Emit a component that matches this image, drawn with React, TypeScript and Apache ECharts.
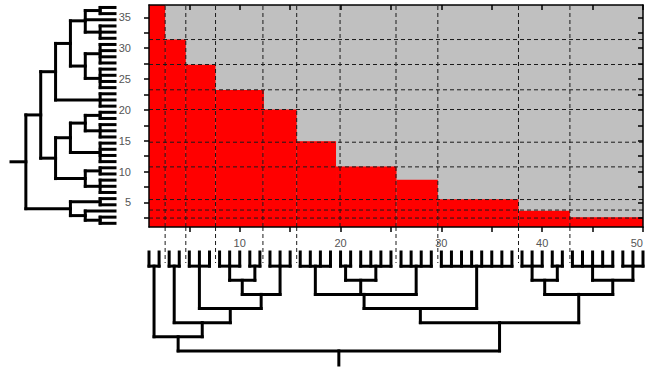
import React, { useEffect, useRef } from "react";
import * as echarts from "echarts";

// ---- axes ----
const X_MIN = 1;
const X_MAX = 50;
const Y_MIN = 1;
const Y_MAX = 37;
const xTicks = [5, 10, 15, 20, 25, 30, 35, 40, 45, 50];
const xLabels = [10, 20, 30, 40, 50];
const yTicks = [2.5, 5, 7.5, 10, 12.5, 15, 17.5, 20, 22.5, 25, 27.5, 30, 32.5, 35];
const yLabels = [5, 10, 15, 20, 25, 30, 35];

// ---- heat map blocks: column block edges and top of the red band in each block ----
const colEdges = [1, 2.6, 4.65, 7.6, 12.4, 15.65, 19.55, 25.55, 29.65, 37.65, 42.75, 50];
const redTops = [37, 31.4, 27.3, 23.2, 20.05, 14.9, 10.8, 8.65, 5.5, 3.65, 2.58];

// ---- dashed cluster separators ----
const vCuts = [2.6, 4.65, 7.6, 12.3, 15.65, 19.95, 25.5, 29.65, 37.65, 42.75];
const vCutsBelow = [2.6, 4.65, 7.6, 12.3, 15.65, 25.5, 29.65, 37.65, 42.75];
const hCuts = [31.4, 27.35, 23.25, 20.05, 14.75, 10.75, 5.45, 3.75, 2.45];

// ---- dendrograms: [mergeLevel, ...children]; numbers are leaves ----
// column tree: leaves are column numbers 1..50
const colTree = [7,
  [6, [1, 1, 2],
    [5, [1, 3, 4],
      [4, [1, 5, 6, 7],
        [3, [2, [1, 8, 9, 10], [1, 11, 12]], [1, 13, 14, 15]]]]],
  [5,
    [4,
      [3, [1, 16, 17, 18, 19], [2, [1, 20, 21], [1, 22, 23, 24, 25]], [1, 26, 27, 28, 29]],
      [1, 30, 31, 32, 33, 34, 35, 36, 37]],
    [3, [2, [1, 38, 39, 40], [1, 41, 42]], [2, [1, 43, 44, 45, 46, 47], [1, 48, 49, 50]]]]
];
const colRootStem = 8;

// row tree: leaves are row indices 0..35 (bottom to top)
const rowTree = [6,
  [5,
    [4,
      [3,
        [2, [1, 35, 34], 33, [1, 32, 31, 30]],
        [2, [1, 29, 28, 27, 26], [1, 25, 24, 23, 22]]],
      [1, 21, 20, 19]],
    [4,
      [3, [2, [1, 18, 17], [1, 16, 15, 14]], [1, 13, 12, 11, 10]],
      [2, [1, 9, 8], [1, 7, 6, 5]]]],
  [3, [1, 4, 3], [2, 2, [1, 1, 0]]]
];
const rowRootStem = 7;
const rowLeafOffset = 1.6;

function buildSegments(tree: any, leafPos: (n: number) => number, stemEnd: number) {
  const segs: number[][] = [];
  const walk = (node: any): [number, number] => {
    if (typeof node === "number") return [leafPos(node), 0];
    const [H, ...kids] = node;
    const ch = kids.map(walk);
    ch.forEach(([p, h]: [number, number]) => segs.push([p, h, p, H]));
    const ps = ch.map((c: [number, number]) => c[0]);
    segs.push([Math.min(...ps), H, Math.max(...ps), H]);
    return [ps.reduce((a: number, b: number) => a + b, 0) / ps.length, H];
  };
  const [p, H] = walk(tree);
  segs.push([p, H, p, stemEnd]);
  return segs;
}

const colSegs = buildSegments(colTree, (n) => n, colRootStem);
const rowSegs = buildSegments(rowTree, (n) => n + rowLeafOffset, rowRootStem).map(
  ([p1, h1, p2, h2]) => [h1, p1, h2, p2]
);

const FONT = "'Liberation Sans', Arial, sans-serif";
const axisLineStyle = { color: "#000", width: 1.5 };

const lineItem = (params: any, api: any) => {
  const p1 = api.coord([api.value(0), api.value(1)]);
  const p2 = api.coord([api.value(2), api.value(3)]);
  return {
    type: "line",
    shape: { x1: p1[0], y1: p1[1], x2: p2[0], y2: p2[1] },
    style: { stroke: "#000", fill: null, lineWidth: 3, lineCap: "square" },
  };
};

const dash = { stroke: "#1a1a1a", fill: null, lineWidth: 1, lineDash: [4, 3] };

export default function App() {
  const ref = useRef<HTMLDivElement>(null);
  useEffect(() => {
    const chart = echarts.init(ref.current!, null, { renderer: "svg" });
    chart.setOption({
      animation: false,
      backgroundColor: "#fff",
      grid: [
        { left: 149, top: 5, width: 494, height: 222, show: true, backgroundColor: "#c0c0c0", borderWidth: 0 },
        { left: 11, top: 5, width: 104, height: 222 },
        { left: 149, top: 252, width: 494, height: 113 },
      ],
      xAxis: [
        {
          gridIndex: 0, type: "value", min: X_MIN, max: X_MAX, position: "bottom", z: 10,
          axisLine: { show: true, onZero: false, lineStyle: axisLineStyle },
          axisTick: { show: true, customValues: xTicks, length: 5, lineStyle: axisLineStyle },
          axisLabel: {
            show: true, customValues: xLabels, margin: 10, color: "#555", fontSize: 11, fontFamily: FONT,
            alignMaxLabel: "right",
          },
          splitLine: { show: false },
        },
        {
          gridIndex: 0, type: "value", min: X_MIN, max: X_MAX, position: "top", z: 10,
          axisLine: { show: true, onZero: false, lineStyle: axisLineStyle },
          axisTick: { show: true, inside: true, customValues: xTicks, length: 5, lineStyle: axisLineStyle },
          axisLabel: { show: false },
          splitLine: { show: false },
        },
        { gridIndex: 1, type: "value", min: 0, max: rowRootStem, inverse: true, show: false },
        { gridIndex: 2, type: "value", min: X_MIN, max: X_MAX, show: false },
      ],
      yAxis: [
        {
          gridIndex: 0, type: "value", min: Y_MIN, max: Y_MAX, position: "left", z: 10,
          axisLine: { show: true, onZero: false, lineStyle: axisLineStyle },
          axisTick: { show: true, customValues: yTicks, length: 5, lineStyle: axisLineStyle },
          axisLabel: { show: true, customValues: yLabels, margin: 18, color: "#555", fontSize: 11, fontFamily: FONT },
          splitLine: { show: false },
        },
        {
          gridIndex: 0, type: "value", min: Y_MIN, max: Y_MAX, position: "right", z: 10,
          axisLine: { show: true, onZero: false, lineStyle: axisLineStyle },
          axisTick: { show: true, inside: true, customValues: yTicks, length: 5, lineStyle: axisLineStyle },
          axisLabel: { show: false },
          splitLine: { show: false },
        },
        { gridIndex: 1, type: "value", min: Y_MIN, max: Y_MAX, show: false },
        { gridIndex: 2, type: "value", min: 0, max: colRootStem, inverse: true, show: false },
      ],
      series: [
        {
          type: "custom", xAxisIndex: 0, yAxisIndex: 0, z: 2,
          data: redTops.map((t, i) => [colEdges[i], colEdges[i + 1], t]),
          renderItem: (params: any, api: any) => {
            const p0 = api.coord([api.value(0), Y_MIN]);
            const p1 = api.coord([api.value(1), api.value(2)]);
            return {
              type: "rect",
              shape: { x: p0[0], y: p1[1], width: p1[0] - p0[0], height: p0[1] - p1[1] },
              style: { fill: "#ff0000" },
            };
          },
        },
        {
          type: "custom", xAxisIndex: 0, yAxisIndex: 0, z: 3,
          data: hCuts.map((v) => [X_MIN, v]),
          renderItem: (params: any, api: any) => {
            const p0 = api.coord([X_MIN, api.value(1)]);
            const p1 = api.coord([X_MAX, api.value(1)]);
            return { type: "line", shape: { x1: p0[0], y1: p0[1], x2: p1[0], y2: p1[1] }, style: dash };
          },
        },
        {
          type: "custom", xAxisIndex: 0, yAxisIndex: 0, z: 3,
          data: vCuts.map((v) => [v, Y_MIN]),
          renderItem: (params: any, api: any) => {
            const p0 = api.coord([api.value(0), Y_MIN]);
            const p1 = api.coord([api.value(0), Y_MAX]);
            return { type: "line", shape: { x1: p0[0], y1: p0[1], x2: p1[0], y2: p1[1] }, style: dash };
          },
        },
        {
          type: "custom", xAxisIndex: 0, yAxisIndex: 0, z: 3, clip: false,
          data: vCutsBelow.map((v) => [v, Y_MIN]),
          renderItem: (params: any, api: any) => {
            const p0 = api.coord([api.value(0), Y_MIN]);
            return { type: "line", shape: { x1: p0[0], y1: p0[1], x2: p0[0], y2: p0[1] + 36 }, style: dash };
          },
        },
        {
          type: "custom", xAxisIndex: 2, yAxisIndex: 2, clip: false,
          data: rowSegs,
          renderItem: lineItem,
        },
        {
          type: "custom", xAxisIndex: 3, yAxisIndex: 3, clip: false,
          data: colSegs,
          renderItem: lineItem,
        },
      ],
    });
    return () => chart.dispose();
  }, []);
  return (
    <div style={{ position: "fixed", left: 0, top: 0, width: 645, height: 371, overflow: "hidden", background: "#fff" }}>
      <div ref={ref} style={{ width: 670, height: 371 }} />
    </div>
  );
}
